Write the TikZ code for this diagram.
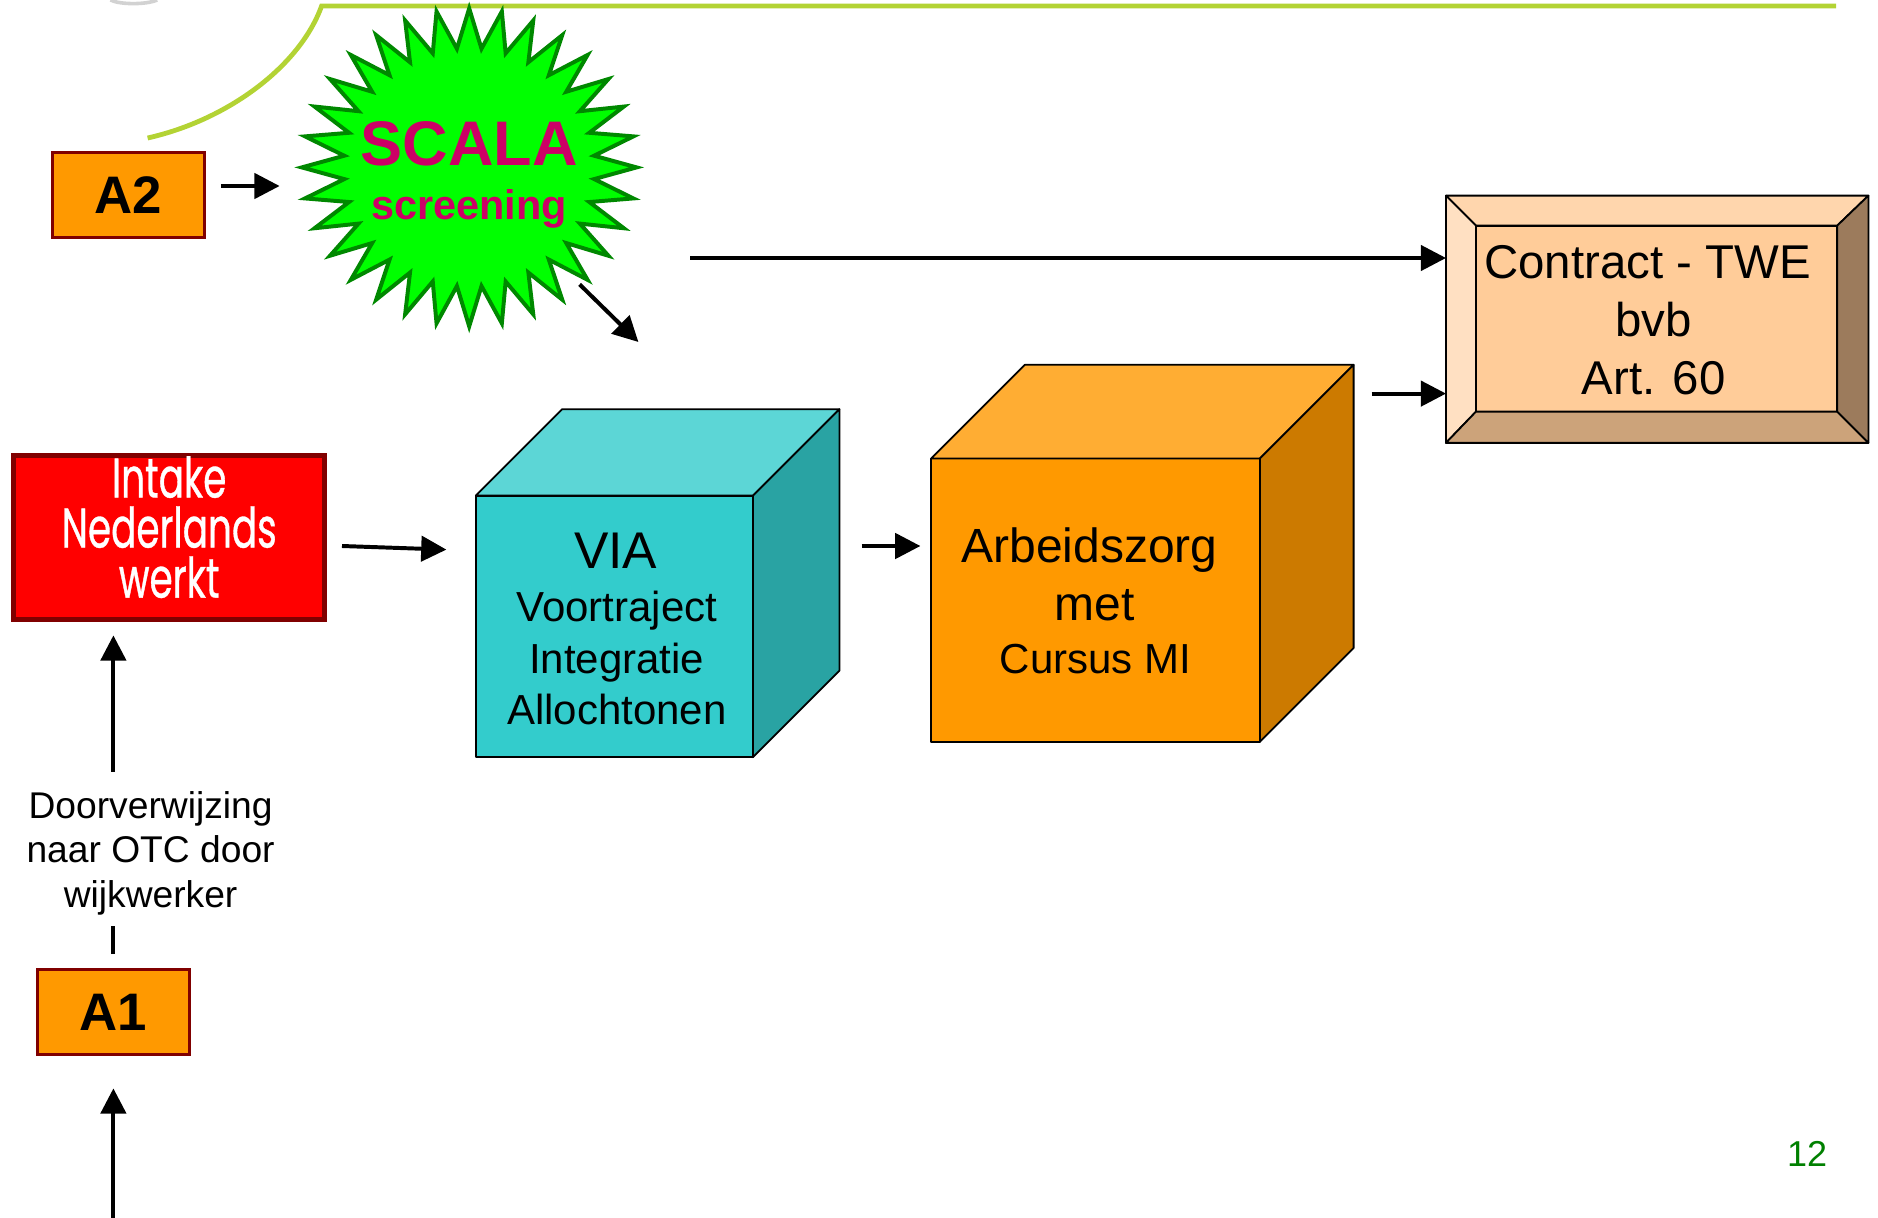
\documentclass[tikz,border=0pt]{standalone}
\usepackage{fontspec}
\setmainfont{Liberation Sans}
\newfontfamily\condfont[FakeStretch=0.67,FakeBold=0.6]{Poppins}
\usetikzlibrary{arrows.meta}
\newcommand{\myfs}[2]{\fontsize{#1}{#2}\selectfont}
\definecolor{orA}{HTML}{FF9900}
\definecolor{dred}{HTML}{800000}
\definecolor{limeL}{HTML}{B3D334}
\definecolor{burstG}{HTML}{00FF00}
\definecolor{burstD}{HTML}{008800}
\definecolor{magT}{HTML}{CC0066}
\definecolor{viaF}{HTML}{33CCCC}
\definecolor{viaT}{HTML}{5CD6D6}
\definecolor{viaS}{HTML}{29A3A3}
\definecolor{arbF}{HTML}{FF9900}
\definecolor{arbT}{HTML}{FFAD33}
\definecolor{arbS}{HTML}{CC7A00}
\definecolor{ctrI}{HTML}{FFCC99}
\definecolor{ctrT}{HTML}{FFD6AD}
\definecolor{ctrL}{HTML}{FFE0C2}
\definecolor{ctrB}{HTML}{CCA37A}
\definecolor{ctrR}{HTML}{9C7B5C}
\definecolor{pgG}{HTML}{008000}
\begin{document}
\begin{tikzpicture}[x=1pt,y=-1pt,
  arr/.style={line width=3.3pt,-{Triangle[length=21pt,width=21pt]}},
  conn/.style={line width=3.3pt},
  abox/.style={draw=dred,line width=2.5pt,fill=orA,minimum width=126pt,minimum height=71pt,inner sep=0pt,outer sep=0pt,font=\bfseries\myfs{44}{50}},
  rbox/.style={draw=dred,line width=4.2pt,fill=red,minimum width=259.5pt,minimum height=137pt,inner sep=0pt,outer sep=0pt},
  face/.style={draw=black,line width=1.5pt,line join=round},
  front/.style={face,inner sep=0pt,outer sep=0pt},
  txt/.style={inner sep=0pt,align=center,anchor=base},
  burst/.style={fill=burstG,draw=burstD,line width=3.3pt,line join=miter},
  limeline/.style={draw=limeL,line width=4pt}
]
\useasboundingbox (0,0) rectangle (1565,1014.2);

% decorative top elements
\draw[gray!35,line width=3pt] (92,0) .. controls (100,4) and (122,4) .. (131,0);
\draw[limeline] (123,115) .. controls (190,100) and (250,55) .. (268,5) -- (1530,5);

% SCALA starburst
\coordinate (sc) at (391,139.5);
\begin{scope}[shift={(sc)}]
\draw[burst] (90:139.5 and 132.5) \foreach \i in {1,...,63} { -- ({90+\i*5.625}:{139.5*(1-0.25*mod(\i,2))} and {132.5*(1-0.25*mod(\i,2))}) } -- cycle;
\end{scope}
\node[txt,font=\bfseries\myfs{52.5}{60},text=magT] (scalat) at (391,138) {SCALA};
\node[txt,font=\bfseries\myfs{34.5}{40},text=magT] (scrt) at (391,183) {screening};

% A boxes
\node[abox] (A2) at (107,162.5) {A2};
\node[abox] (A1) at (94.5,843.5) {A1};

% Intake
\node[rbox] (intake) at (141,448) {};
\node[txt,font=\condfont\myfs{46.5}{41.7},text=white] (intaket) at (141,498) {Intake\\Nederlands\\werkt};

% VIA cube
\node[front,fill=viaF,minimum width=231pt,minimum height=218pt] (via) at (512,522) {};
\draw[face,fill=viaT] (via.north west) -- ([shift={(72,-72)}]via.north west) -- ([shift={(72,-72)}]via.north east) -- (via.north east) -- cycle;
\draw[face,fill=viaS] (via.north east) -- ([shift={(72,-72)}]via.north east) -- ([shift={(72,-72)}]via.south east) -- (via.south east) -- cycle;
\node[txt,font=\myfs{43}{48}] (viat) at (513,474) {VIA};
\node[txt,font=\myfs{35}{43}] (vias) at (514,604) {Voortraject\\Integratie\\Allochtonen};

% Arbeidszorg cube
\node[front,fill=arbF,minimum width=274pt,minimum height=236pt] (arb) at (913,500) {};
\draw[face,fill=arbT] (arb.north west) -- ([shift={(78,-78)}]arb.north west) -- ([shift={(78,-78)}]arb.north east) -- (arb.north east) -- cycle;
\draw[face,fill=arbS] (arb.north east) -- ([shift={(78,-78)}]arb.north east) -- ([shift={(78,-78)}]arb.south east) -- (arb.south east) -- cycle;
\node[txt,font=\myfs{40}{48}] (arbt) at (908,517) {Arbeidszorg\\\hspace*{8pt}met};
\node[txt,font=\myfs{35}{40}] (arbc) at (913,561) {Cursus MI};

% Contract bevel box
\node[front,fill=ctrI,minimum width=352pt,minimum height=206pt] (ctr) at (1381,266) {};
\node[front,fill=ctrI,minimum width=301pt,minimum height=155pt] (ctri) at (1380.5,265.5) {};
\draw[face,fill=ctrT] (ctr.north west) -- (ctr.north east) -- (ctri.north east) -- (ctri.north west) -- cycle;
\draw[face,fill=ctrL] (ctr.north west) -- (ctri.north west) -- (ctri.south west) -- (ctr.south west) -- cycle;
\draw[face,fill=ctrB] (ctr.south west) -- (ctri.south west) -- (ctri.south east) -- (ctr.south east) -- cycle;
\draw[face,fill=ctrR] (ctr.north east) -- (ctr.south east) -- (ctri.south east) -- (ctri.north east) -- cycle;
\node[txt,font=\myfs{39.5}{48.5}] (ctrt) at (1378,329) {Contract - TWE\hspace*{10pt}\\bvb\\Art. 60};

% referral label
\node[txt,font=\myfs{31}{37}] (doorv) at (125.5,756) {Doorverwijzing\\naar OTC door\\wijkwerker};

% page number
\node[txt,font=\myfs{30}{36},text=pgG] (pgnum) at (1506,972) {12};

% connector end points
\coordinate (a2s) at (184,155);
\coordinate (a2e) at (233,155);
\coordinate (scs) at (483,237);
\coordinate (sce) at (532,285);
\coordinate (longs) at (575,215);
\coordinate (ins) at (285,455);
\coordinate (ine) at (372,458);
\coordinate (vas) at (718,455);
\coordinate (vae) at (767,455);
\coordinate (acs) at (1143,328);
\coordinate (stubtop) at (94.5,772);
\coordinate (upstart) at (94.5,643);
\coordinate (botstart) at (94.5,1016);

% connectors
\draw[arr] (a2s) -- (a2e);
\draw[arr] (scs) -- (sce);
\draw[arr] (longs) -- (longs -| ctr.west);
\draw[arr] (acs) -- (acs -| ctr.west);
\draw[arr] (ins) -- (ine);
\draw[arr] (vas) -- (vae);
\draw[conn] ([yshift=13pt]A1.north) -- (stubtop);
\draw[arr,shorten >=13pt] (upstart) -- (upstart |- intake.south);
\draw[arr,shorten >=28pt] (botstart) -- (botstart |- A1.south);
\end{tikzpicture}
\end{document}
